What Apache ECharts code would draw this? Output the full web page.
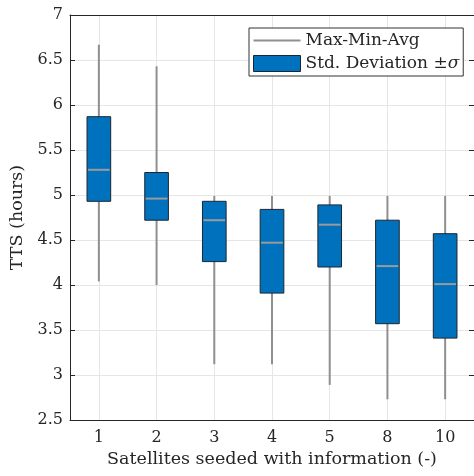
<!DOCTYPE html>
<html>
<head>
<meta charset="utf-8">
<script src="https://cdn.jsdelivr.net/npm/echarts@6/dist/echarts.min.js"></script>
<style>
  html, body { margin: 0; padding: 0; background: #fff; }
  #main { width: 474px; height: 476px; }
</style>
</head>
<body>
<div id="main"></div>
<script>
// satellites seeded with information
var categories = ['1', '2', '3', '4', '5', '8', '10'];
// TTS in hours
var maxVals   = [6.67, 6.43, 4.99, 4.99, 4.99, 4.99, 4.99];
var minVals   = [4.04, 4.00, 3.12, 3.12, 2.89, 2.73, 2.73];
var avgVals   = [5.28, 4.96, 4.72, 4.47, 4.67, 4.21, 4.01];
var upperVals = [5.87, 5.25, 4.93, 4.84, 4.89, 4.72, 4.57];
var lowerVals = [4.93, 4.72, 4.26, 3.91, 4.20, 3.57, 3.41];
var yTicks = ['2.5', '3', '3.5', '4', '4.5', '5', '5.5', '6', '6.5', '7'];

var fontFam = '"DejaVu Serif", serif';
var axisCol = '#262626';
var gridCol = '#e6e6e6';

var whiskerData = categories.map(function (c, i) { return [i, maxVals[i], minVals[i]]; });
var boxData = categories.map(function (c, i) { return [i, lowerVals[i], upperVals[i], avgVals[i]]; });

var chartDom = document.getElementById('main');
var myChart = echarts.init(chartDom, null, { renderer: 'canvas' });

var option = {
    animation: false,
    grid: {
        left: 70,
        top: 15,
        width: 406,
        height: 405
    },
    legend: {
        left: 249,
        top: 28,
        orient: 'vertical',
        backgroundColor: '#fff',
        borderColor: '#333',
        borderWidth: 1,
        padding: [4, 4, 4, 4],
        itemGap: 6,
        itemWidth: 47,
        itemHeight: 16,
        textStyle: {
            fontFamily: fontFam,
            fontSize: 17,
            color: '#262626',
            rich: {
                s: { fontFamily: fontFam, fontSize: 17, fontStyle: 'italic', color: '#262626' }
            }
        },
        formatter: function (name) {
            if (name === 'Std. Deviation') return 'Std. Deviation \u00b1{s|\u03c3}';
            return name;
        },
        data: [
            { name: 'Max-Min-Avg', icon: 'path://M0,0M0,7H48V9H0ZM48,16', itemStyle: { color: '#8f8f8f' } },
            { name: 'Std. Deviation', icon: 'rect', itemStyle: { color: '#0072BD', borderColor: '#1b2631', borderWidth: 1 } }
        ]
    },
    xAxis: [
        {
            type: 'category',
            data: categories,
            name: 'Satellites seeded with information (-)',
            nameLocation: 'middle',
            nameGap: 29,
            nameTextStyle: { fontFamily: fontFam, fontSize: 17.5, color: axisCol },
            axisLine: { lineStyle: { color: axisCol, width: 1 } },
            axisTick: { inside: true, alignWithLabel: true, length: 5, lineStyle: { color: axisCol } },
            axisLabel: { margin: 10, fontFamily: fontFam, fontSize: 16, color: axisCol },
            splitLine: { show: true, alignWithLabel: true, lineStyle: { color: gridCol, width: 1 } }
        },
        {
            type: 'category',
            data: categories,
            position: 'top',
            axisLine: { lineStyle: { color: axisCol, width: 1 } },
            axisTick: { inside: true, alignWithLabel: true, length: 5, lineStyle: { color: axisCol } },
            axisLabel: { show: false },
            splitLine: { show: false }
        }
    ],
    yAxis: [
        {
            type: 'value',
            min: 2.5,
            max: 7,
            interval: 0.5,
            name: 'TTS (hours)',
            nameLocation: 'middle',
            nameGap: 40,
            nameTextStyle: { fontFamily: fontFam, fontSize: 17.5, color: axisCol },
            axisLine: { show: true, lineStyle: { color: axisCol, width: 1 } },
            axisTick: { show: true, inside: true, length: 5, lineStyle: { color: axisCol } },
            axisLabel: {
                margin: 7,
                fontFamily: fontFam,
                fontSize: 16,
                color: axisCol,
                formatter: function (v) { return yTicks[Math.round((v - 2.5) / 0.5)]; }
            },
            splitLine: { show: true, lineStyle: { color: gridCol, width: 1 } }
        },
        {
            type: 'value',
            min: 2.5,
            max: 7,
            interval: 0.5,
            position: 'right',
            axisLine: { show: true, lineStyle: { color: axisCol, width: 1 } },
            axisTick: { show: true, inside: true, length: 5, lineStyle: { color: axisCol } },
            axisLabel: { show: false },
            splitLine: { show: false }
        }
    ],
    series: [
        {
            name: 'Max-Min-Avg',
            type: 'custom',
            z: 2,
            itemStyle: { color: '#8f8f8f' },
            encode: { x: 0, y: [1, 2] },
            data: whiskerData,
            renderItem: function (params, api) {
                var top = api.coord([api.value(0), api.value(1)]);
                var bot = api.coord([api.value(0), api.value(2)]);
                return {
                    type: 'line',
                    shape: { x1: top[0], y1: top[1], x2: bot[0], y2: bot[1] },
                    style: { stroke: '#8f8f8f', lineWidth: 2 }
                };
            }
        },
        {
            name: 'Std. Deviation',
            type: 'custom',
            z: 3,
            itemStyle: { color: '#0072BD' },
            encode: { x: 0, y: [1, 2, 3] },
            data: boxData,
            renderItem: function (params, api) {
                var lo = api.coord([api.value(0), api.value(1)]);
                var hi = api.coord([api.value(0), api.value(2)]);
                var av = api.coord([api.value(0), api.value(3)]);
                var w = api.size([1, 0])[0] * 0.41;
                return {
                    type: 'group',
                    children: [
                        {
                            type: 'rect',
                            shape: { x: lo[0] - w / 2, y: hi[1], width: w, height: lo[1] - hi[1] },
                            style: { fill: '#0072BD', stroke: '#1b2631', lineWidth: 1 }
                        },
                        {
                            type: 'line',
                            shape: { x1: av[0] - w / 2 + 1, y1: av[1], x2: av[0] + w / 2 - 1, y2: av[1] },
                            style: { stroke: '#9a9a9a', lineWidth: 2 }
                        }
                    ]
                };
            }
        }
    ]
};

myChart.setOption(option);
window.addEventListener('resize', myChart.resize);
</script>
</body>
</html>
